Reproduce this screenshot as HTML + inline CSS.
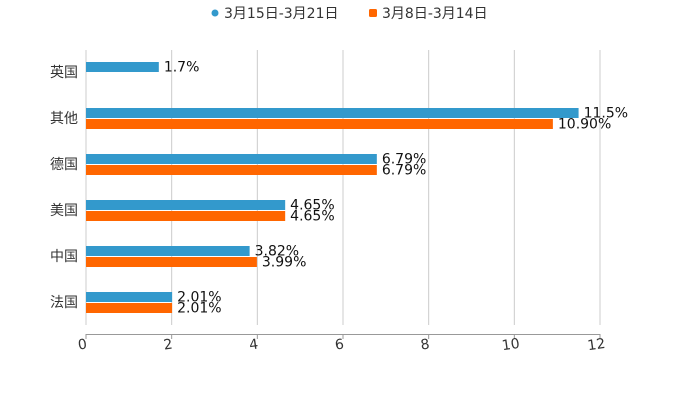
<!DOCTYPE html>
<html><head><meta charset="utf-8"><style>
body{margin:0;background:#fff;}
svg{font-family:"DejaVu Sans","Liberation Sans","Noto Sans CJK SC",sans-serif;}
</style></head><body>
<svg id="chart" width="700" height="400">
<g>
<g>
<circle cx="215" cy="13" r="3.5" fill="#3399cc"/>
<text x="224" y="18" font-size="14" fill="#333">3月15日-3月21日</text></g>
<g>
<rect x="369" y="9" width="8" height="8" rx="1.5" fill="#ff6600"/>
<text x="382" y="18" font-size="14" fill="#333">3月8日-3月14日</text></g>
</g>
<g id="grid"></g>
<g id="bars"></g>
<g id="axis"></g>
</svg>
<script>
const categories=["英国","其他","德国","美国","中国","法国"];
const seriesA=[1.7,11.5,6.79,4.65,3.82,2.01];
const seriesB=[null,10.90,6.79,4.65,3.99,2.01];
const labelsA=["1.7%","11.5%","6.79%","4.65%","3.82%","2.01%"];
const labelsB=["","10.90%","6.79%","4.65%","3.99%","2.01%"];
const ticks=[0,2,4,6,8,10,12];
const NS="http://www.w3.org/2000/svg";
const x0=86,x1=600,plotTop=49,band=46,xmax=12;
const xs=v=>x0+(x1-x0)*v/xmax;
const cy=i=>plotTop+band/2+band*i;
function mk(t,a,p){const e=document.createElementNS(NS,t);for(const k in a)e.setAttribute(k,a[k]);p.appendChild(e);return e;}
const grid=document.getElementById('grid'),bars=document.getElementById('bars'),axis=document.getElementById('axis');
ticks.forEach(t=>{
 const g=mk('line',{x1:xs(t),x2:xs(t),y1:50,y2:325,stroke:'#ccc','stroke-width':1},grid);
 
 
 const tk=mk('line',{x1:xs(t),x2:xs(t),y1:334,y2:339,stroke:'#999'},axis);
 
 
 const l=mk('text',{x:xs(t)-3,y:349,'font-size':14,fill:'#333','text-anchor':'middle',transform:`rotate(-8 ${xs(t)-3} 349)`},axis);
 l.textContent=t;
 
 
});
const al=mk('line',{x1:x0,x2:x1,y1:334.5,y2:334.5,stroke:'#999'},axis);


categories.forEach((c,i)=>{
 const y=cy(i);
 const cl=mk('text',{x:78,y:y+5,'font-size':14,fill:'#333','text-anchor':'end'},axis);
 cl.textContent=c;
 
 
 if(seriesA[i]!=null){
  const r=mk('rect',{x:x0,y:y-10,width:xs(seriesA[i])-x0,height:10,fill:'#3399cc'},bars);
  
  
  const t=mk('text',{x:xs(seriesA[i])+5,y:y-0.5,'font-size':14,fill:'#111'},bars);t.textContent=labelsA[i];
  
  
 }
 if(seriesB[i]!=null){
  const r=mk('rect',{x:x0,y:y+1,width:xs(seriesB[i])-x0,height:10,fill:'#ff6600'},bars);
  
  
  const t=mk('text',{x:xs(seriesB[i])+5,y:y+10.5,'font-size':14,fill:'#111'},bars);t.textContent=labelsB[i];
  
  
 }
});
</script>
</body></html>
